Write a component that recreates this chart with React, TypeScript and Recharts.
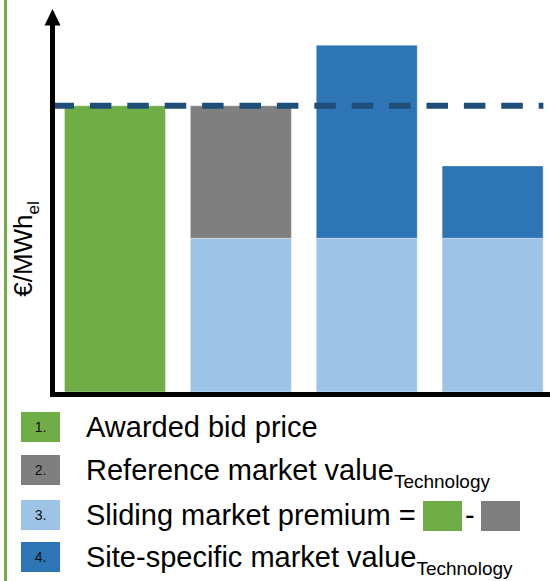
import React from "react";
import { BarChart, Bar, XAxis, YAxis, ReferenceLine, Label } from "recharts";

// values in arbitrary €/MWh units, awarded bid price = 100
const categories = ["Awarded bid", "Reference", "Site A", "Site B"];
const awardedBid = [100, 0, 0, 0];
const slidingPremium = [0, 53.7, 53.7, 53.7];
const referenceValue = [0, 46.3, 0, 0];
const siteSpecific = [0, 0, 67.5, 25.3];
const bidLevel = 100;

const GREEN = "#70ad47";
const GRAY = "#7f7f7f";
const LIGHT_BLUE = "#9dc3e6";
const DARK_BLUE = "#2e75b6";
const DASH_BLUE = "#1f4e79";

const FONT = "'Liberation Sans', Arial, sans-serif";

const data = categories.map((name, i) => ({
  name,
  awarded: awardedBid[i],
  premium: slidingPremium[i],
  reference: referenceValue[i],
  site: siteSpecific[i],
}));

const legendItems = [
  { num: "1.", color: GREEN, top: 412, text: "Awarded bid price", sub: "" },
  { num: "2.", color: GRAY, top: 455, text: "Reference market value", sub: "Technology" },
  { num: "3.", color: LIGHT_BLUE, top: 500, text: "Sliding market premium =", sub: "" },
  { num: "4.", color: DARK_BLUE, top: 542, text: "Site-specific market value", sub: "Technology" },
];

const barStroke = { stroke: "#ffffff", strokeOpacity: 0.35, strokeWidth: 1 };

// dashed line stops a little before the right edge, like the original
const dashPattern = Array(13).fill("21.5 15.9").join(" ") + " 4.7 80";

const YLabel = () => (
  <text
    x={32}
    y={249}
    transform="rotate(-90 32 249)"
    textAnchor="middle"
    fontFamily={FONT}
    fontSize={26}
    fill="#000"
  >
    €/MWh
    <tspan fontSize={17} dy={7}>
      el
    </tspan>
  </text>
);

export default function App() {
  return (
    <div
      style={{
        position: "absolute",
        left: 0,
        top: 0,
        width: 550,
        height: 581,
        overflow: "hidden",
        background: "#fff",
        fontFamily: FONT,
      }}
    >
      {/* green side rule */}
      <div
        style={{
          position: "absolute",
          left: 4,
          top: 0,
          width: 3,
          height: 581,
          background: GREEN,
        }}
      />

      <div style={{ position: "absolute", left: 0, top: 0 }}>
        <BarChart
          width={556}
          height={400}
          data={data}
          margin={{ top: 20, right: 0, left: 51.5, bottom: 4.5 }}
        >
          <XAxis
            dataKey="name"
            tick={false}
            tickLine={false}
            height={1}
            axisLine={{ stroke: "#000", strokeWidth: 5, strokeLinecap: "square" }}
          />
          <YAxis
            type="number"
            domain={[-0.9, 130]}
            tick={false}
            tickLine={false}
            width={1}
            axisLine={{ stroke: "#000", strokeWidth: 5, strokeLinecap: "square" }}
          >
            <Label content={<YLabel />} />
          </YAxis>
          <Bar dataKey="awarded" stackId="a" fill={GREEN} barSize={101} {...barStroke} isAnimationActive={false} />
          <Bar dataKey="premium" stackId="a" fill={LIGHT_BLUE} barSize={101} {...barStroke} isAnimationActive={false} />
          <Bar dataKey="reference" stackId="a" fill={GRAY} barSize={101} {...barStroke} isAnimationActive={false} />
          <Bar dataKey="site" stackId="a" fill={DARK_BLUE} barSize={101} {...barStroke} isAnimationActive={false} />
          <ReferenceLine
            y={bidLevel}
            stroke={DASH_BLUE}
            strokeWidth={6}
            strokeDasharray={dashPattern}
          />
        </BarChart>
      </div>

      {/* arrow head on the y axis */}
      <svg
        width={550}
        height={40}
        style={{ position: "absolute", left: 0, top: 0 }}
      >
        <polygon points="52.5,9 44.5,25.5 60.5,25.5" fill="#000" />
      </svg>

      {/* legend */}
      {legendItems.map((item) => (
        <div
          key={item.num}
          style={{ position: "absolute", left: 0, top: item.top, height: 30, width: 550 }}
        >
          <div
            style={{
              position: "absolute",
              left: 21,
              top: 0,
              width: 39,
              height: 30,
              background: item.color,
              color: "#111",
              fontSize: 14,
              display: "flex",
              alignItems: "center",
              justifyContent: "center",
            }}
          >
            {item.num}
          </div>
          <div
            style={{
              position: "absolute",
              left: 86,
              top: 0,
              fontSize: 29,
              lineHeight: "30px",
              whiteSpace: "nowrap",
              color: "#000",
            }}
          >
            {item.text}
            {item.sub && (
              <span style={{ fontSize: 19, position: "relative", top: 8 }}>
                {item.sub}
              </span>
            )}
          </div>
          {item.num === "3." && (
            <>
              <div
                style={{
                  position: "absolute",
                  left: 423,
                  top: 1,
                  width: 39,
                  height: 30,
                  background: GREEN,
                }}
              />
              <div
                style={{
                  position: "absolute",
                  left: 465,
                  top: 0,
                  fontSize: 29,
                  lineHeight: "30px",
                  color: "#000",
                }}
              >
                -
              </div>
              <div
                style={{
                  position: "absolute",
                  left: 481,
                  top: 1,
                  width: 39,
                  height: 30,
                  background: GRAY,
                }}
              />
            </>
          )}
        </div>
      ))}
    </div>
  );
}
